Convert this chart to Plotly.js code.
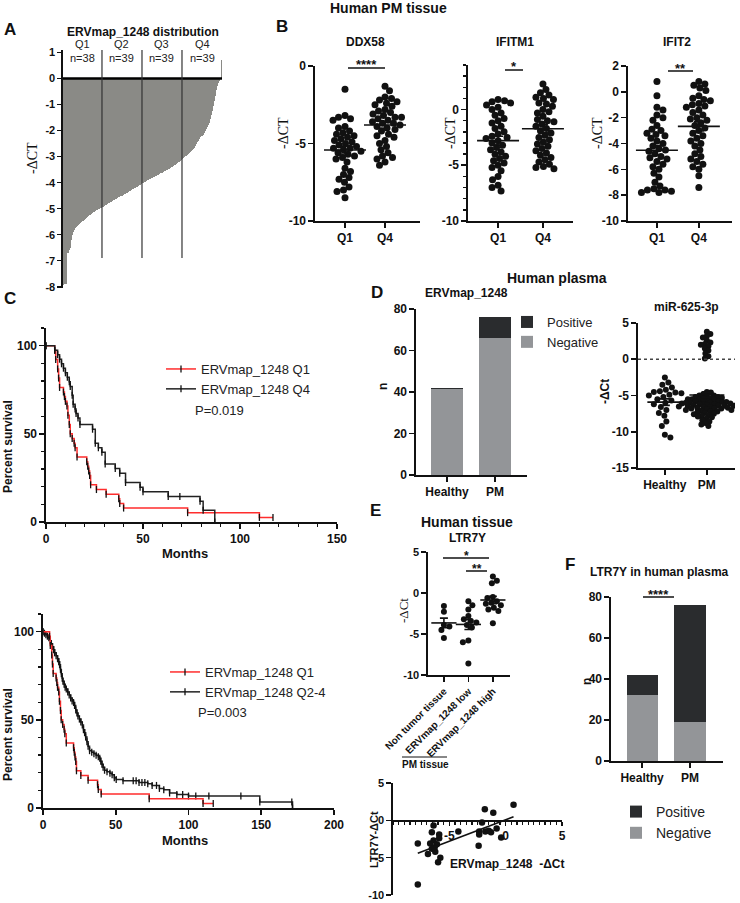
<!DOCTYPE html>
<html><head><meta charset="utf-8">
<script src="https://cdn.plot.ly/plotly-3.0.1.min.js"></script>
<style>html,body{margin:0;padding:0;background:#fff;}#chart{width:740px;height:903px;}</style>
</head><body><div id="chart"></div>
<script>
// ================= DATA =================
// A: ERVmap_1248 distribution (-dCT, sorted), by quartile
const ervQ1 = [-7.92,-7.9,-7.9,-7.88,-6.72,-6.7,-6.6,-6.5,-6.2,-6.0,-5.88,-5.82,-5.76,-5.71,-5.67,-5.63,-5.59,-5.55,-5.52,-5.48,-5.44,-5.4,-5.36,-5.32,-5.29,-5.26,-5.23,-5.2,-5.17,-5.14,-5.11,-5.08,-5.06,-5.04,-5.02,-5.0,-4.98,-4.96];
const ervQ2 = [-4.94,-4.92,-4.89,-4.87,-4.85,-4.82,-4.8,-4.78,-4.75,-4.73,-4.71,-4.68,-4.66,-4.64,-4.61,-4.59,-4.57,-4.54,-4.52,-4.5,-4.47,-4.45,-4.43,-4.4,-4.38,-4.36,-4.33,-4.31,-4.29,-4.26,-4.24,-4.22,-4.19,-4.17,-4.15,-4.12,-4.1,-4.08,-4.06];
const ervQ3 = [-4.02,-4.0,-3.98,-3.96,-3.93,-3.91,-3.89,-3.87,-3.85,-3.83,-3.81,-3.79,-3.77,-3.75,-3.73,-3.71,-3.69,-3.66,-3.64,-3.62,-3.6,-3.57,-3.55,-3.53,-3.5,-3.48,-3.46,-3.43,-3.41,-3.38,-3.36,-3.33,-3.31,-3.28,-3.25,-3.22,-3.19,-3.16,-3.13];
const ervQ4 = [-3.08,-3.05,-3.02,-2.99,-2.96,-2.93,-2.9,-2.87,-2.83,-2.79,-2.75,-2.7,-2.65,-2.58,-2.52,-2.45,-2.38,-2.32,-2.26,-2.2,-2.15,-2.1,-2.0,-1.92,-1.85,-1.78,-1.7,-1.55,-1.4,-1.25,-1.05,-0.85,-0.65,-0.45,-0.3,-0.15,-0.08,-0.02,0.7];
const quartileNames = ['Q1','Q2','Q3','Q4'];
const ervTicks = [1,0,-1,-2,-3,-4,-5,-6,-7,-8];

// B: Human PM tissue, Q1 vs Q4
const bGroups = ['Q1','Q4'];
const ddx58Q1 = [-1.5,-3.2,-3.3,-3.4,-3.5,-3.9,-4.0,-4.2,-4.3,-4.4,-4.5,-4.6,-4.7,-4.8,-4.9,-5.0,-5.1,-5.2,-5.3,-5.3,-5.4,-5.5,-5.6,-5.8,-5.9,-6.0,-6.2,-6.6,-6.8,-7.0,-7.2,-7.3,-7.5,-7.8,-8.0,-8.1,-8.5,-5.7];
const ddx58Q4 = [-1.3,-1.6,-2.0,-2.1,-2.2,-2.3,-2.4,-2.5,-2.6,-2.8,-2.9,-3.0,-3.1,-3.2,-3.3,-3.4,-3.5,-3.6,-3.7,-3.7,-3.8,-3.9,-4.0,-4.1,-4.2,-4.4,-4.5,-4.6,-4.8,-5.0,-5.2,-5.4,-5.6,-5.8,-5.9,-6.0,-6.2,-6.4,-3.3];
const ifitm1Q1 = [0.9,0.8,0.7,0.6,0.4,0.2,0.0,-0.3,-0.5,-0.8,-1.0,-1.2,-1.5,-1.7,-2.0,-2.2,-2.4,-2.6,-2.8,-3.0,-3.2,-3.4,-3.6,-3.8,-4.0,-4.2,-4.4,-4.6,-4.8,-5.0,-5.2,-5.5,-6.0,-6.3,-6.8,-7.0,-7.3,-2.5];
const ifitm1Q4 = [2.3,1.8,1.5,1.3,1.1,1.0,0.9,0.6,0.3,0.0,-0.3,-0.6,-0.9,-1.1,-1.3,-1.5,-1.7,-1.9,-2.1,-2.3,-2.5,-2.7,-2.9,-3.1,-3.3,-3.5,-3.7,-3.9,-4.1,-4.3,-4.5,-4.7,-4.9,-5.1,-5.2,-5.3,-1.0,-0.2,0.5];
const ifit2Q1 = [0.8,-0.3,-1.2,-1.4,-1.8,-2.0,-2.2,-2.6,-2.9,-3.0,-3.2,-3.4,-3.6,-3.8,-4.0,-4.2,-4.4,-4.6,-4.8,-5.0,-5.2,-5.4,-5.6,-5.8,-6.0,-6.3,-6.6,-7.0,-7.3,-7.5,-7.6,-7.7,-7.8,-7.8,-7.6,-4.5,-3.3,-5.1];
const ifit2Q4 = [0.8,0.6,0.5,0.3,0.1,-0.3,-0.5,-0.7,-0.9,-1.0,-1.2,-1.4,-1.6,-1.8,-2.0,-2.2,-2.4,-2.6,-2.8,-3.0,-3.2,-3.4,-3.6,-3.8,-4.0,-4.2,-4.5,-4.8,-5.0,-5.2,-5.4,-5.6,-5.8,-6.0,-6.5,-7.4,-1.1,-2.1,-0.6];
const ddxTicks = [0,-5,-10], ifitmTicks = [0,-5,-10], ifitTicks = [2,0,-2,-4,-6,-8,-10];

// C: Kaplan-Meier step points (months, percent survival)
const kmQ1Months = [0,4.5,5,6,6.5,7,9,9.5,10,10.8,11.3,12,12.5,13.5,14.5,15,16,21,21.5,22,22.5,23,26,31,37.5,38,40,73,110,117];
const kmQ1Surv   = [100,97.4,92.1,86.8,81.6,76.3,73.7,71.1,68.4,65.8,60.5,55.3,50,47.4,44.7,42.1,36.8,34.2,31.6,28.9,26.3,21.1,18.4,15.8,13.2,10.5,7.9,5.3,2.6,2.6];
const kmQ4Months = [0,4.5,6,7,8,9,10,11,12,12.5,13.5,14,15,15.5,16.5,17.5,24,25.4,27,28.8,30.5,35.7,38,41,48.5,50,63,69,79.4,81,87];
const kmQ4Surv   = [100,97.4,94.9,92.3,89.7,87.2,84.6,82.1,79.5,76.9,71.8,66.7,64.1,61.5,59,55.3,52.6,44.7,42.1,39.5,32.9,30.3,27.6,22.4,19.7,17.1,14.5,14.5,11.8,6.6,0];
const kmQ24Months = [0,1,2,3,4,5,5.7,6.5,7.3,8,9,10,10.8,11.4,12,12.6,13.2,13.7,14.5,15.2,16,17,18,19,20,21,21.7,22.5,23.3,24,25,26,27,27.8,28.6,29.3,30.2,31,32,33.5,35,36.5,38,39,39.7,40.5,41.3,42.3,44,46,47.5,49,50.3,55,62,64,66,68,70,72,75,78,80,83,87,92,96,100,105,114,136,149,171,171.5];
const kmQ24Surv   = [100,99.1,98.3,97.4,96.6,94.9,93.2,91.5,89.7,88,86.3,84.6,82.9,81.2,78.6,76.1,73.5,71.8,70.1,68.4,67.5,65.8,64.1,62.4,60.7,59.8,58.1,55.6,53.8,52.1,50.4,48.7,47,44.4,42.7,40.2,37.6,35,32.5,31.6,30.8,29.9,29.1,28.2,26.5,24.8,23.1,21.4,20.5,19.7,18.8,17.1,16.2,15.4,15.4,15.4,14.5,14.5,14.5,13.7,12.8,12.8,11.1,10.3,8.5,7.7,7.7,6.8,6.8,6.8,6.8,3.4,3.4,0];
const kmNames = ['ERVmap_1248 Q1','ERVmap_1248 Q4','ERVmap_1248 Q2-4'];
const kmP = ['P=0.019','P=0.003'];

// D: Human plasma
const plasmaGroups = ['Healthy','PM'];
const ervPlasmaNeg = [41.3,66];
const ervPlasmaPos = [0.7,10];
const mirHealthy = [-2.5,-3.2,-3.5,-3.9,-4.2,-4.4,-4.5,-4.7,-4.9,-5.0,-5.2,-5.5,-5.7,-6.0,-6.2,-6.6,-7.0,-7.4,-7.8,-8.6,-9.2,-10.4,-10.8,-4.6];
const mirPM = [3.8,3.5,3.2,3.0,2.6,2.3,2.1,2.0,1.8,1.5,1.2,0.8,0.4,0.1,
  -4.5,-4.6,-4.8,-5.0,-5.0,-5.1,-5.2,-5.2,-5.3,-5.4,-5.5,-5.5,-5.6,-5.6,-5.7,-5.8,-5.8,-5.9,-5.9,-6.0,
  -6.0,-6.0,-6.1,-6.1,-6.2,-6.2,-6.3,-6.3,-6.4,-6.4,-6.5,-6.5,-6.6,-6.6,-6.7,-6.7,-6.8,-6.8,-6.9,-7.0,
  -7.0,-7.1,-7.2,-7.2,-7.3,-7.4,-7.5,-7.6,-7.7,-7.8,-7.9,-8.0,-8.2,-8.4,-8.6,-8.8,-9.0,-9.2,-6.0,-6.4,-5.4,-6.8];
const statusNames = ['Positive','Negative'];
const countTicks = [0,20,40,60,80];
const mirTicks = [5,0,-5,-10,-15];

// E: Human tissue LTR7Y
const ltrGroups = ['Non tumor tissue','ERVmap_1248 low','ERVmap_1248 high'];
const ltrNonTumor = [-1.6,-2.3,-3.9,-4.1,-4.5,-5.5];
const ltrLow = [-1.0,-1.5,-2.0,-2.8,-3.2,-3.4,-3.6,-3.9,-4.2,-5.8,-6.0,-8.6];
const ltrHigh = [2.0,1.5,1.2,-0.5,-0.6,-1.0,-1.2,-1.3,-1.5,-1.8,-2.0,-2.2,-3.7];
const ltrTicks = [5,0,-5,-10];
const corrERV = [0.7,-1.85,-1.1,-2.1,-0.8,-2.35,-2.35,-1.8,-1.5,-1.3,-0.4,-2.4,-4.2,-6.4,-6.55,-5.9,-5.9,-6.4,-6.7,-6.1,-6.55,-6.25,-5.8,-6.0,-7.8,-7.8,-6.9,-6.3];
const corrLTR = [2.1,1.5,1.0,-0.3,-1.1,-1.5,-1.9,-1.5,-1.4,-1.6,-2.3,-3.4,-1.5,-0.7,-1.6,-1.9,-2.4,-2.7,-3.1,-3.2,-3.8,-4.2,-5.0,-5.6,-3.1,-8.6,-4.5,-3.6];
const corrXTicks = [-5,0,5];

// F: LTR7Y in human plasma
const ltrPlasmaNeg = [32,19];
const ltrPlasmaPos = [10,57];

// ================= LAYOUT HELPERS =================
const W=740,H=903;
const px=x=>x/W, py=y=>1-y/H;
const SANS='Liberation Sans, Arial, sans-serif', SERIF='Liberation Serif, Times New Roman, serif';
const INK='#111';
const B=s=>({family:SANS,size:s,color:INK,weight:'bold'});
const R=s=>({family:SANS,size:s,color:'#222'});
const G={
  A:{x:[63,222],y:[50,288],xr:[-0.5,154.5],yr:[-8.05,1.1]},
  ddx:{x:[315,420],y:[66,221],xr:[-0.75,1.875],yr:[-10,0]},
  ifitm:{x:[468,573],y:[65,221],xr:[-0.67,1.67],yr:[-10,4]},
  ifit:{x:[628,732],y:[66,221],xr:[-0.69,1.79],yr:[-10,2]},
  km1:{x:[46,337],y:[328,522],xr:[0,150],yr:[0,110]},
  km2:{x:[43,334],y:[614,808],xr:[0,200],yr:[0,110]},
  dbar:{x:[416,527],y:[309,475],xr:[-0.646,1.667],yr:[0,80]},
  mir:{x:[638,735],y:[323,468],xr:[-0.64,1.67],yr:[-15,5]},
  edot:{x:[428,510],y:[552,675],xr:[-0.65,2.7],yr:[-10,5]},
  esc:{x:[393,562],y:[783,895],xr:[-10,5],yr:[-10,5]},
  fbar:{x:[611,723],y:[597,761],xr:[-0.65,1.69],yr:[0,80]}
};
function axis(o){return Object.assign({showgrid:false,zeroline:false,showline:true,linecolor:INK,linewidth:1.6,ticks:'outside',tickcolor:INK,tickwidth:1.6,ticklen:5,tickfont:B(12),fixedrange:true},o);}
function xax(g,o){return axis(Object.assign({domain:[px(g.x[0]),px(g.x[1])],range:g.xr},o));}
function yax(g,o){return axis(Object.assign({domain:[py(g.y[1]),py(g.y[0])],range:g.yr},o));}
function numTicks(v){return {tickmode:'array',tickvals:v,ticktext:v.map(String)};}
const ppu=g=>(g.y[1]-g.y[0])/(g.yr[1]-g.yr[0]);
const ppc=g=>(g.x[1]-g.x[0])/(g.xr[1]-g.xr[0]);
const mean=a=>a.reduce((s,v)=>s+v,0)/a.length;
const sem=a=>{const m=mean(a);return Math.sqrt(a.reduce((s,v)=>s+(v-m)*(v-m),0)/(a.length-1))/Math.sqrt(a.length);};

// beeswarm offsets (pixel collision avoidance), returned in category units
function swarm(vals,g,d){
  const u=ppu(g),c=ppc(g);
  const order=vals.map((v,i)=>i).sort((a,b)=>vals[b]-vals[a]);
  const placed=[],off=new Array(vals.length).fill(0);
  order.forEach((i,n)=>{
    const y=vals[i]*u;let best=0;
    for(let k=0;k<400;k++){
      const s=k*0.5;const cands=k===0?[0]:(n%2?[s,-s]:[-s,s]);let ok=null;
      for(const cx of cands){if(placed.every(p=>Math.hypot(p.x-cx,p.y-y)>=d)){ok=cx;break;}}
      if(ok!==null){best=ok;break;}
    }
    placed.push({x:best,y:y});off[i]=best/c;
  });
  return off;
}
function dotTraces(groups,xa,ya,g,size,d,meanW,capW){
  const tr=[];
  groups.forEach((vals,gi)=>{
    const off=swarm(vals,g,Array.isArray(d)?d[gi]:d);
    tr.push({type:'scatter',mode:'markers',x:vals.map((v,i)=>gi+off[i]),y:vals,xaxis:xa,yaxis:ya,
      marker:{color:INK,size:size},showlegend:false,hoverinfo:'skip'});
  });
  tr.push({type:'scatter',mode:'markers',x:groups.map((_,i)=>i),y:groups.map(mean),xaxis:xa,yaxis:ya,
    marker:{symbol:'line-ew-open',size:meanW,color:INK,line:{color:INK,width:1.6}},
    error_y:{type:'data',array:groups.map(sem),visible:true,color:INK,thickness:1.6,width:capW},showlegend:false,hoverinfo:'skip'});
  return tr;
}

// ================= TRACES =================
const traces=[];
// A
const aVals=[...ervQ1,...ervQ2,...ervQ3,...ervQ4];
traces.push({type:'bar',x:aVals.map((_,i)=>i),y:aVals,width:1,xaxis:'x',yaxis:'y',
  marker:{color:'#8a8a86',line:{width:0}},showlegend:false,hoverinfo:'skip'});
// B
traces.push(...dotTraces([ddx58Q1,ddx58Q4],'x2','y2',G.ddx,7,6.3,30,5));
traces.push(...dotTraces([ifitm1Q1,ifitm1Q4],'x3','y3',G.ifitm,7,6.3,30,5));
traces.push(...dotTraces([ifit2Q1,ifit2Q4],'x4','y4',G.ifit,7,6.3,30,5));
// C
function km(x,y,name,color,xa,ya,leg){
  return {type:'scatter',mode:'lines+markers',x:x,y:y,name:name,xaxis:xa,yaxis:ya,legend:leg,
    line:{shape:'hv',color:color,width:1.5},
    marker:{symbol:'line-ns-open',size:5,color:INK,line:{color:INK,width:1.3}},hoverinfo:'skip'};
}
traces.push(km(kmQ1Months,kmQ1Surv,kmNames[0],'#ff2d2d','x5','y5','legend'));
traces.push(km(kmQ4Months,kmQ4Surv,kmNames[1],'#222','x5','y5','legend'));
traces.push(km(kmQ24Months,kmQ24Surv,kmNames[2],'#222','x6','y6','legend2'));
traces.push(km(kmQ1Months,kmQ1Surv,kmNames[0],'#ff2d2d','x6','y6','legend2'));
traces[traces.length-1].legendrank=1;
// D bars
const NEG='#939598',POS='#2a2c2e';
traces.push({type:'bar',x:plasmaGroups,y:ervPlasmaNeg,name:statusNames[1],width:0.65,xaxis:'x7',yaxis:'y7',marker:{color:NEG},legend:'legend3',hoverinfo:'skip'});
traces.push({type:'bar',x:plasmaGroups,y:ervPlasmaPos,name:statusNames[0],width:0.65,xaxis:'x7',yaxis:'y7',marker:{color:POS},legend:'legend3',hoverinfo:'skip'});
// D miR
traces.push(...dotTraces([mirHealthy,mirPM],'x8','y8',G.mir,6,[6,4],25,5));
// E dot
traces.push(...dotTraces([ltrNonTumor,ltrLow,ltrHigh],'x9','y9',G.edot,6,5.5,18,4));
// E scatter + regression
traces.push({type:'scatter',mode:'markers',x:corrERV,y:corrLTR,xaxis:'x10',yaxis:'y10',marker:{color:INK,size:6.5},showlegend:false,hoverinfo:'skip'});
(function(){
  const mx=mean(corrERV),my=mean(corrLTR);
  let sxy=0,sxx=0;corrERV.forEach((x,i)=>{sxy+=(x-mx)*(corrLTR[i]-my);sxx+=(x-mx)*(x-mx);});
  const b=sxy/sxx,a=my-b*mx;const x0=Math.min(...corrERV),x1=Math.max(...corrERV);
  traces.push({type:'scatter',mode:'lines',x:[x0,x1],y:[a+b*x0,a+b*x1],xaxis:'x10',yaxis:'y10',line:{color:INK,width:1.6},showlegend:false,hoverinfo:'skip'});
})();
// F bars
traces.push({type:'bar',x:plasmaGroups,y:ltrPlasmaNeg,name:statusNames[1],width:0.65,xaxis:'x11',yaxis:'y11',marker:{color:NEG},legend:'legend4',hoverinfo:'skip'});
traces.push({type:'bar',x:plasmaGroups,y:ltrPlasmaPos,name:statusNames[0],width:0.65,xaxis:'x11',yaxis:'y11',marker:{color:POS},legend:'legend4',hoverinfo:'skip'});
traces.forEach(t=>{if(!t.legend)t.showlegend=false;});

// ================= LAYOUT =================
const minor=(d,len)=>({tickmode:'linear',tick0:0,dtick:d,ticks:'outside',ticklen:len||3,tickcolor:INK,tickwidth:1.3});
const layout={
  width:W,height:H,margin:{l:0,r:0,t:0,b:0},paper_bgcolor:'#fff',plot_bgcolor:'rgba(0,0,0,0)',
  barmode:'stack',bargap:0,showlegend:true,font:{family:SANS,color:INK},
  xaxis:xax(G.A,{anchor:'y',showline:false,ticks:'',showticklabels:false}),
  yaxis:yax(G.A,Object.assign({anchor:'x',tickfont:B(11),ticklen:4},numTicks(ervTicks))),
  xaxis2:xax(G.ddx,{anchor:'y2',tickmode:'array',tickvals:[0,1],ticktext:bGroups}),
  yaxis2:yax(G.ddx,Object.assign({anchor:'x2'},numTicks(ddxTicks))),
  xaxis3:xax(G.ifitm,{anchor:'y3',tickmode:'array',tickvals:[0,1],ticktext:bGroups}),
  yaxis3:yax(G.ifitm,Object.assign({anchor:'x3',minor:minor(1,3)},numTicks(ifitmTicks))),
  xaxis4:xax(G.ifit,{anchor:'y4',tickmode:'array',tickvals:[0,1],ticktext:bGroups}),
  yaxis4:yax(G.ifit,Object.assign({anchor:'x4'},numTicks(ifitTicks))),
  xaxis5:xax(G.km1,{anchor:'y5',tickmode:'linear',tick0:0,dtick:50,minor:minor(10,3)}),
  yaxis5:yax(G.km1,{anchor:'x5',tickmode:'linear',tick0:0,dtick:50,minor:minor(10,3)}),
  xaxis6:xax(G.km2,{anchor:'y6',tickmode:'linear',tick0:0,dtick:50}),
  yaxis6:yax(G.km2,{anchor:'x6',tickmode:'linear',tick0:0,dtick:50,minor:minor(10,3)}),
  xaxis7:xax(G.dbar,{anchor:'y7',type:'category'}),
  yaxis7:yax(G.dbar,Object.assign({anchor:'x7'},numTicks(countTicks))),
  xaxis8:xax(G.mir,{anchor:'y8',tickmode:'array',tickvals:[0,1],ticktext:plasmaGroups}),
  yaxis8:yax(G.mir,Object.assign({anchor:'x8'},numTicks(mirTicks))),
  xaxis9:xax(G.edot,{anchor:'y9',tickmode:'array',tickvals:[0,1,2],ticktext:ltrGroups,tickangle:-45,tickfont:B(10)}),
  yaxis9:yax(G.edot,Object.assign({anchor:'x9',tickfont:B(11)},numTicks(ltrTicks))),
  xaxis10:xax(G.esc,Object.assign({anchor:'free',linewidth:1.2,ticklen:4,tickwidth:1.2,
    position:py(G.esc.y[0]+(G.esc.yr[1]-0)*ppu(G.esc)),minor:minor(0.5,3)},numTicks(corrXTicks))),
  yaxis10:yax(G.esc,Object.assign({anchor:'x10',tickfont:B(11)},numTicks(ltrTicks))),
  xaxis11:xax(G.fbar,{anchor:'y11',type:'category'}),
  yaxis11:yax(G.fbar,Object.assign({anchor:'x11'},numTicks(countTicks))),
  legend:{x:px(161),y:py(354),xanchor:'left',yanchor:'top',bgcolor:'rgba(0,0,0,0)',font:R(13),traceorder:'normal'},
  legend2:{x:px(165),y:py(657),xanchor:'left',yanchor:'top',bgcolor:'rgba(0,0,0,0)',font:R(13),traceorder:'normal'},
  legend3:{x:px(507),y:py(307),xanchor:'left',yanchor:'top',bgcolor:'rgba(0,0,0,0)',font:R(13),traceorder:'reversed'},
  legend4:{x:px(616),y:py(796),xanchor:'left',yanchor:'top',bgcolor:'rgba(0,0,0,0)',font:R(14),traceorder:'reversed'}
};

// annotations
function T(text,x,y,o){return Object.assign({text:text,x:px(x),y:py(y),xref:'paper',yref:'paper',showarrow:false,xanchor:'center',yanchor:'middle',font:B(12)},o||{});}
const ann=[];
ann.push(T('A',10,30,{font:B(17)}),T('ERVmap_1248 distribution',143,32));
const counts=[ervQ1.length,ervQ2.length,ervQ3.length,ervQ4.length];
let cum=0;const bounds=[];
counts.forEach((n,i)=>{
  const c=cum+(n-1)/2;
  ann.push({text:quartileNames[i]+'<br>n='+n,x:c,xref:'x',y:py(51),yref:'paper',yanchor:'middle',showarrow:false,font:R(11)});
  cum+=n;if(i<3)bounds.push(cum-0.5);
});
ann.push(T('-ΔCT',33,158,{textangle:-90,font:{family:SERIF,size:14,color:INK}}));
ann.push(T('Human PM tissue',388,8,{font:B(14)}),T('B',282,27,{font:B(17)}));
ann.push(T('DDX58',365,42),T('IFITM1',515,42),T('IFIT2',677,42));
[283,450,597].forEach(x=>ann.push(T('-ΔCT',x,133,{textangle:-90,font:{family:SERIF,size:14,color:INK}})));
ann.push(T('****',366,65,{font:B(13)}),T('*',514,66,{font:B(13)}),T('**',680,69,{font:B(13)}));
ann.push(T('C',10,298,{font:B(17)}));
ann.push(T('Percent survival',8,447,{textangle:-90}),T('Percent survival',8,735,{textangle:-90}));
ann.push(T('Months',185,553,{font:B(13)}),T('Months',185,840,{font:B(13)}));
ann.push(T(kmP[0],193,410,{xanchor:'left',font:R(13)}),T(kmP[1],196,712,{xanchor:'left',font:R(13)}));
ann.push(T('Human plasma',557,278,{font:B(14)}),T('D',377,293,{font:B(17)}),T('ERVmap_1248',466,293),T('miR-625-3p',686,307));
ann.push(T('n',383,387,{textangle:-90}),T('n',587,682,{textangle:-90}),T('-ΔCt',605,392,{textangle:-90}));
ann.push(T('E',375,510,{font:B(17)}),T('Human tissue',467,522,{font:B(14)}),T('LTR7Y',467,538));
ann.push(T('-ΔCt',403,611,{textangle:-90,font:{family:SERIF,size:13,color:INK}}));
ann.push(T('*',466,556,{font:B(12)}),T('**',477,569,{font:B(12)}));
ann.push(T('PM tissue',425,764,{font:B(10)}));
ann.push(T('LTR7Y-ΔCt',374,839,{textangle:-90,font:B(11)}),T('ERVmap_1248  -ΔCt',507,864));
ann.push(T('F',570,564,{font:B(17)}),T('LTR7Y in human plasma',659,572),T('****',658,594,{font:B(13)}));
layout.annotations=ann;

// shapes
const L=(x0,y0,x1,y1,o)=>Object.assign({type:'line',xref:'paper',yref:'paper',x0:px(x0),x1:px(x1),y0:py(y0),y1:py(y1),line:{color:INK,width:1.5}},o||{});
const shapes=[];
shapes.push({type:'line',xref:'x domain',yref:'y',x0:0,x1:1,y0:0,y1:0,line:{color:'#000',width:2.5},layer:'above'});
bounds.forEach(b=>shapes.push({type:'line',xref:'x',yref:'paper',x0:b,x1:b,y0:py(258),y1:py(50),line:{color:'#333',width:1.2},layer:'above'}));
shapes.push(L(348,68,385,68),L(505,70,523,70),L(668,71,693,71));
shapes.push({type:'line',xref:'x8 domain',yref:'y8',x0:0,x1:1,y0:0,y1:0,line:{color:'#444',width:1.3,dash:'dot'}});
shapes.push(L(443,558,489,558),L(466,571,487,571),L(402,757,447,757,{line:{color:INK,width:1}}));
shapes.push(L(643,597,674,597));
layout.shapes=shapes;

Plotly.newPlot('chart',traces,layout,{staticPlot:true,displayModeBar:false});
</script>
</body></html>
